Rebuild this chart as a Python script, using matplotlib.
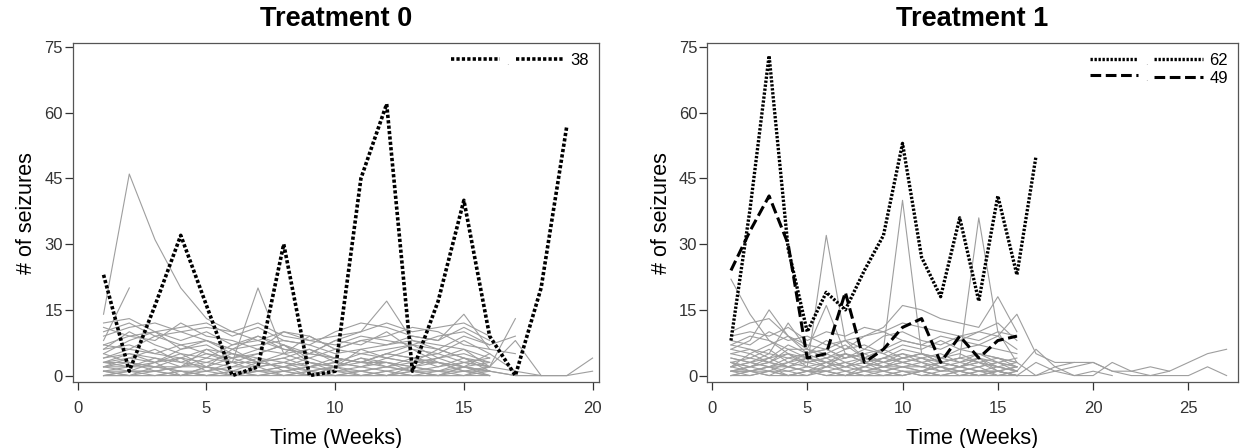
import numpy as np
import matplotlib
matplotlib.use("Agg")
import matplotlib.pyplot as plt

plt.rcParams['font.family'] = ['Liberation Sans', 'DejaVu Sans']

# ---- datos: tratamiento 0 (semanas desde 1) ----
t0_gray = [
    [14, 46, 31, 20, 13, 10, 8, 6, 5, 4, 3, 5, 4, 3, 2, 1],
    [8, 20],
    [3, 5, 4, 2, 6, 3, 20, 5, 3, 2, 4, 3, 2, 1, 3, 2],
    [10, 12, 9, 10, 8, 6, 9, 7, 5, 8, 10, 17, 8, 7, 6, 4],
    [5, 8, 10, 6, 7, 4, 6, 5, 9, 6, 8, 7, 9, 8, 14, 6, 5],
    [2, 4, 3, 5, 2, 6, 3, 4, 2, 3, 5, 4, 3, 6, 4, 2, 13],
    [1, 0, 2, 1, 0, 1, 3, 2, 1, 0, 1, 2, 1, 1, 0, 2, 8, 0, 0, 4],
    [0, 1, 0, 0, 2, 1, 0, 1, 0, 1, 0, 0, 1, 0, 2, 1, 0, 0, 0, 1],
    [12, 13, 10, 11, 12, 9, 11, 8, 7, 10, 12, 11, 9, 8, 11, 8],
    [9, 11, 12, 10, 11, 10, 12, 9, 8, 9, 10, 12, 10, 11, 12, 9],
    [7, 9, 8, 12, 9, 8, 6, 10, 8, 7, 9, 8, 7, 9, 10, 7],
    [6, 10, 7, 5, 4, 7, 9, 6, 5, 8, 7, 10, 6, 5, 8, 5],
    [4, 6, 5, 7, 5, 3, 5, 7, 4, 6, 5, 6, 7, 4, 5, 3],
    [3, 2, 4, 3, 5, 4, 2, 3, 5, 4, 3, 2, 4, 5, 3, 4],
    [2, 3, 1, 2, 3, 2, 4, 1, 2, 3, 2, 3, 1, 2, 4, 1],
    [1, 2, 2, 1, 1, 3, 1, 2, 3, 1, 2, 1, 2, 3, 1, 2],
    [0, 1, 1, 0, 1, 0, 2, 0, 1, 2, 0, 1, 0, 1, 1, 0],
    [5, 3, 2, 4, 3, 5, 4, 3, 2, 4, 3, 5, 4, 2, 3, 2],
    [2, 1, 3, 0, 2, 1, 1, 2, 0, 2, 1, 0, 2, 1, 2, 0],
    [1, 0, 0, 1, 0, 0, 1, 0, 0, 0, 1, 0, 0, 0, 1, 0],
    [4, 5, 3, 6, 8, 5, 3, 4, 6, 3, 2, 4, 6, 3, 2, 5, 1],
    [3, 4, 6, 3, 2, 4, 5, 7, 3, 2, 6, 4, 3, 4, 6, 2, 1, 0, 0],
    [6, 7, 5, 4, 6, 5, 3, 5, 6, 4, 3, 5, 7, 6, 4, 3],
    [0, 0, 1, 0, 0, 1, 0, 0, 1, 0, 0, 1, 0, 0, 0, 1, 0, 0],
    [11, 9, 10, 8, 10, 7, 8, 10, 9, 6, 8, 9, 11, 10, 7, 6],
    [3, 3, 2, 2, 4, 3, 3, 2, 4, 2, 3, 3, 2, 4, 2, 3],
    [2, 2, 3, 4, 1, 2, 2, 3, 1, 2, 4, 2, 3, 3, 1, 1],
    [1, 1, 1, 2, 2, 0, 1, 1, 2, 1, 1, 2, 1, 0, 2, 1],
    [0, 0, 0, 1, 0, 0, 0, 1, 0, 0, 0, 0, 1, 0, 0, 0],
    [7, 6, 9, 7, 8, 6, 7, 8, 7, 5, 6, 7, 8, 6, 9, 7, 9],
]
pac38 = [23, 1, 16, 32, 16, 0, 2, 30, 0, 1, 45, 62, 1, 17, 40, 9, 0, 20, 57]

# ---- datos: tratamiento 1 ----
t1_gray = [
    [22, 14, 8, 5, 3, 4, 2, 3, 1, 2, 1, 2, 1, 0, 1, 0],
    [6, 8, 15, 9, 5, 6, 4, 5, 3, 4, 5, 3, 2, 4, 3, 2],
    [3, 2, 4, 5, 2, 32, 8, 4, 3, 5, 4, 3, 2, 3, 4, 2],
    [2, 3, 5, 12, 6, 16, 5, 3, 2, 4, 3, 2, 1, 2, 3, 1],
    [1, 2, 3, 2, 1, 3, 2, 4, 6, 40, 5, 3, 2, 4, 1, 0],
    [4, 3, 2, 3, 4, 2, 5, 3, 2, 3, 2, 3, 4, 36, 10, 3],
    [5, 6, 4, 7, 5, 8, 6, 9, 11, 16, 15, 13, 12, 11, 18, 10],
    [7, 9, 8, 6, 6, 5, 7, 4, 6, 8, 7, 9, 8, 10, 9, 14, 5, 3, 3],
    [1, 1, 0, 2, 1, 1, 0, 1, 2, 1, 0, 1, 1, 0, 1, 0, 0, 2, 3, 3, 1, 1, 2, 1, 3, 5, 6],
    [0, 1, 1, 0, 1, 0, 1, 0, 0, 1, 1, 0, 0, 1, 0, 0, 3, 1, 0, 0, 3, 1, 0, 0, 0, 2, 0],
    [9, 10, 9, 11, 8, 10, 9, 11, 10, 12, 11, 10, 9, 8, 10, 9],
    [8, 7, 10, 8, 9, 7, 8, 6, 9, 10, 8, 7, 9, 10, 12, 8],
    [6, 5, 7, 9, 6, 4, 6, 7, 5, 7, 6, 8, 6, 7, 6, 5],
    [5, 4, 6, 3, 5, 6, 4, 5, 6, 4, 5, 4, 6, 5, 4, 3],
    [4, 3, 2, 4, 3, 2, 3, 4, 2, 3, 4, 2, 3, 2, 3, 4],
    [3, 2, 1, 3, 2, 3, 1, 2, 3, 2, 1, 3, 2, 1, 2, 1],
    [2, 1, 2, 1, 2, 1, 2, 1, 1, 2, 2, 1, 2, 1, 1, 2],
    [1, 0, 1, 1, 0, 2, 1, 0, 1, 0, 1, 0, 1, 2, 0, 1],
    [0, 0, 1, 0, 0, 1, 0, 0, 0, 1, 0, 0, 0, 0, 1, 0],
    [2, 3, 4, 2, 3, 4, 5, 3, 4, 5, 3, 4, 5, 3, 2, 3, 0, 1, 2, 3, 1, 0, 0, 1],
    [1, 2, 3, 2, 4, 3, 2, 3, 4, 3, 2, 3, 4, 3, 2, 1, 6, 2, 0, 1, 0],
    [3, 4, 3, 5, 4, 3, 5, 4, 3, 4, 5, 3, 4, 5, 3, 2],
    [10, 12, 13, 9, 7, 6, 8, 9, 10, 8, 7, 6, 8, 7, 9, 6],
    [2, 5, 3, 6, 4, 5, 3, 2, 4, 6, 5, 4, 3, 5, 4, 3],
    [7, 6, 5, 4, 5, 3, 4, 6, 5, 3, 4, 5, 3, 4, 2, 1],
    [3, 1, 2, 2, 1, 2, 3, 1, 2, 2, 3, 1, 2, 3, 1, 2],
    [1, 1, 2, 0, 1, 1, 0, 2, 1, 0, 1, 2, 0, 1, 1, 0],
    [0, 1, 0, 0, 1, 0, 0, 1, 0, 0, 1, 0, 1, 0, 0, 1],
]
pac62 = [8, 38, 73, 29, 10, 19, 15, 24, 32, 53, 27, 18, 36, 17, 41, 23, 50]
pac49 = [24, 33, 41, 30, 4, 5, 19, 3, 6, 11, 13, 3, 9, 4, 8, 9]

yticks = [0, 15, 30, 45, 60, 75]
gris = (0.62, 0.62, 0.62)

fig = plt.figure(figsize=(12.42, 4.48), dpi=100)
ax0 = fig.add_axes([0.0585, 0.147, 0.4238, 0.757])
ax1 = fig.add_axes([0.5692, 0.147, 0.4276, 0.757])


def semanas(v):
    return np.arange(1, len(v) + 1)


def estilo(ax, titulo, xticks, xlim):
    ax.set_xlim(xlim)
    ax.set_ylim(-1.5, 75.9)
    ax.set_xticks(xticks)
    ax.set_yticks(yticks)
    ax.tick_params(direction='out', length=5.5, width=0.9, colors='#333333',
                   labelsize=12, pad=1.5)
    ax.tick_params(axis='x', pad=8)
    for s in ax.spines.values():
        s.set_color('#555555')
        s.set_linewidth(0.9)
    ax.set_title(titulo, fontsize=19.5, fontweight='bold', pad=12)
    ax.set_xlabel('Time (Weeks)', fontsize=15.5, labelpad=9)
    ax.set_ylabel('# of seizures', fontsize=15.5, labelpad=5)


# tratamiento 0
for v in t0_gray:
    ax0.plot(semanas(v), v, color=gris, lw=0.8)
ax0.plot(semanas(pac38), pac38, color='black', lw=2.6, dashes=(0.9, 0.6))
estilo(ax0, 'Treatment 0', [0, 5, 10, 15, 20], (-0.2, 20.25))

l38a, = ax0.plot([], [], color='black', lw=2.6, dashes=(0.9, 0.6))
l38b, = ax0.plot([], [], color='black', lw=2.6, dashes=(0.9, 0.6))
leg0 = ax0.legend([l38a, l38b], ['.', '38'], ncol=2, loc='upper right',
                  frameon=False, fontsize=12, handlelength=2.9,
                  columnspacing=0.4, handletextpad=0.4,
                  borderaxespad=0.2)
leg0.get_texts()[0].set_color('#aaaaaa')
leg0.get_texts()[0].set_fontsize(7)

# tratamiento 1
for v in t1_gray:
    ax1.plot(semanas(v), v, color=gris, lw=0.8)
ax1.plot(semanas(pac49), pac49, color='black', lw=2.2, dashes=(3.5, 1.5))
ax1.plot(semanas(pac62), pac62, color='black', lw=2.4, dashes=(0.7, 0.5))
estilo(ax1, 'Treatment 1', [0, 5, 10, 15, 20, 25], (-0.26, 27.6))

h62, = ax1.plot([], [], color='black', lw=2.4, dashes=(0.7, 0.5))
h49, = ax1.plot([], [], color='black', lw=2.2, dashes=(3.5, 1.5))
leg1 = ax1.legend([h62, h49, h62, h49], ['.', '.', '62', '49'], ncol=2,
                  loc='upper right', frameon=False, fontsize=12,
                  handlelength=2.9, columnspacing=0.4, handletextpad=0.4,
                  borderaxespad=0.2, labelspacing=0.15)
for i in (0, 1):
    leg1.get_texts()[i].set_color('#aaaaaa')
    leg1.get_texts()[i].set_fontsize(7)

fig.savefig('out.png', dpi=100)
